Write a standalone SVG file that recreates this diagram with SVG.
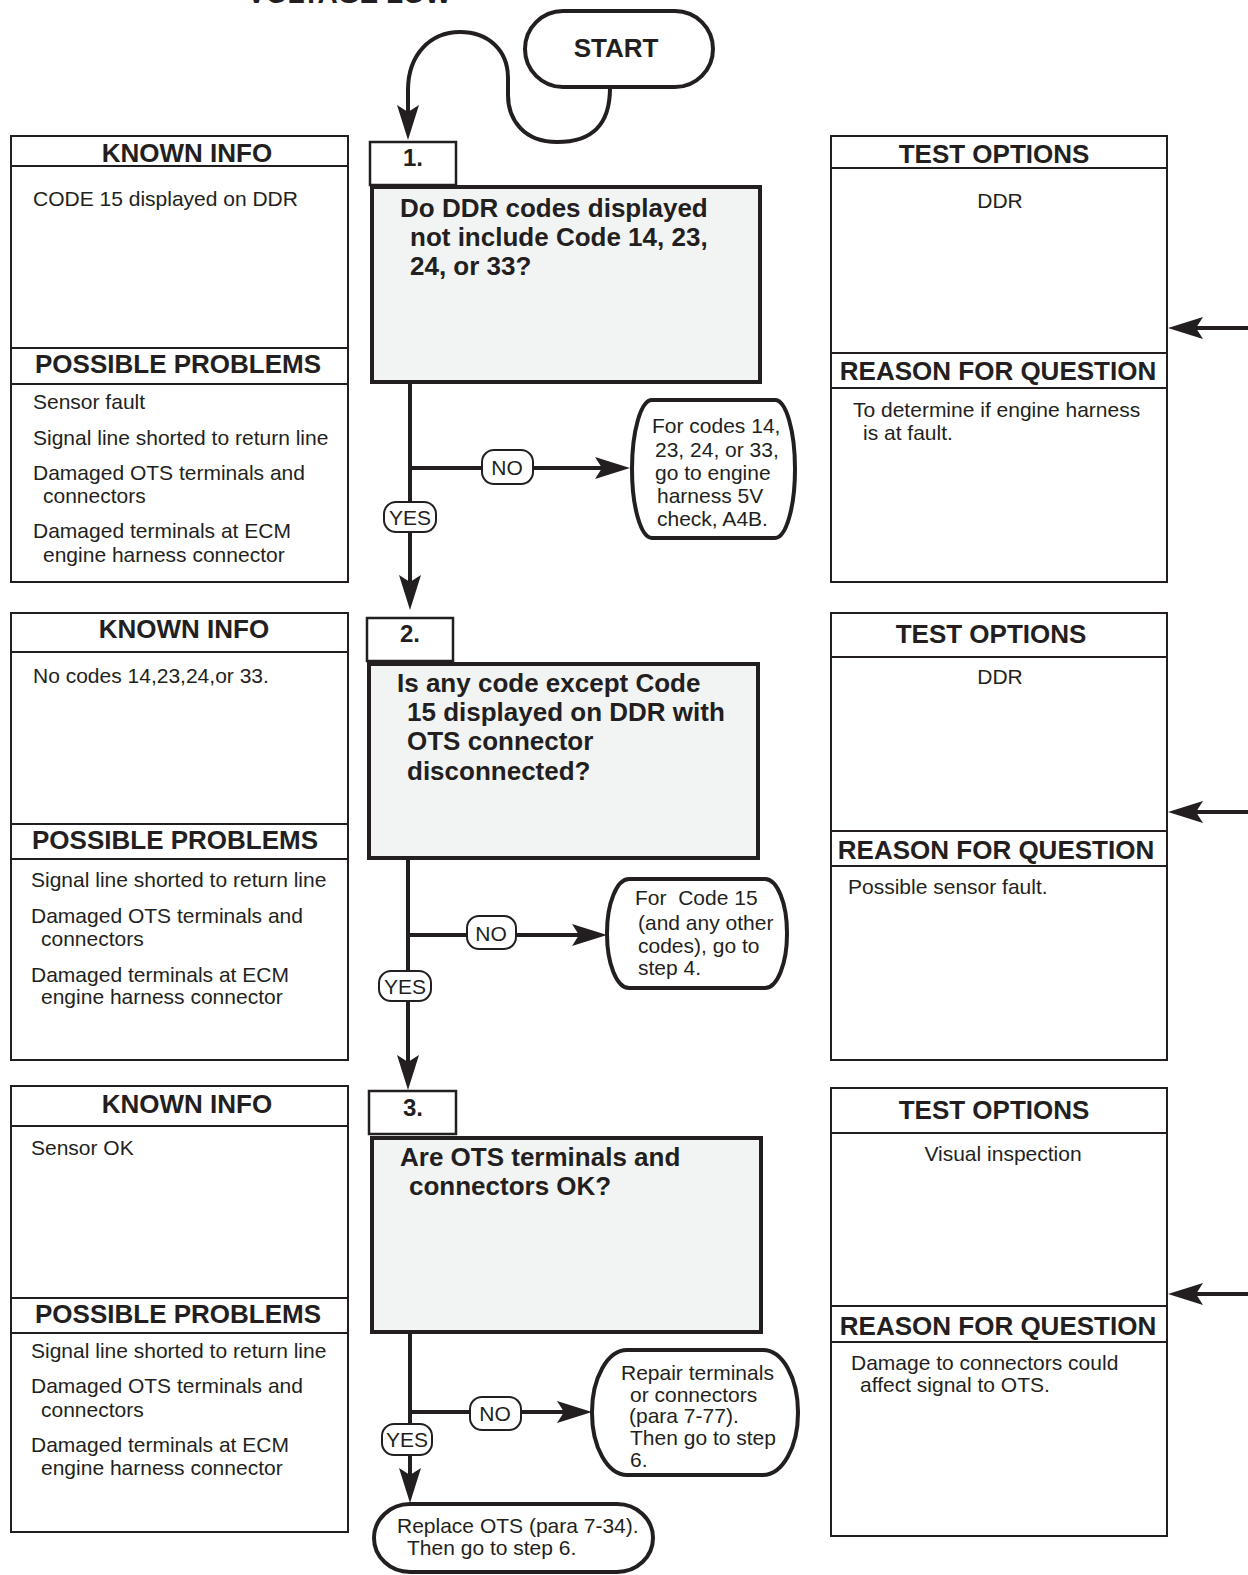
<svg xmlns="http://www.w3.org/2000/svg" xmlns:xlink="http://www.w3.org/1999/xlink" width="1248" height="1575" viewBox="0 0 1248 1575">
<style>
text{font-family:"Liberation Sans",Arial,Helvetica,sans-serif;fill:#231f20}
.h{font-size:26px;font-weight:bold}
.b{font-size:21px}
.q{font-size:26px;font-weight:bold}
.n{font-size:24px;font-weight:bold}
.lbl{font-size:21px}
.c{text-anchor:middle}
.info{fill:#fff;stroke:#231f20;stroke-width:2}
.div{stroke:#231f20;stroke-width:2}
.qbox{fill:#f2f4f4;stroke:#231f20;stroke-width:4}
.num{fill:#fff;stroke:#231f20;stroke-width:2.5}
.oval{fill:#fff;stroke:#231f20;stroke-width:4}
.tag{fill:#fff;stroke:#231f20;stroke-width:2}
.ln{fill:none;stroke:#231f20;stroke-width:4}
.ah{fill:#231f20}
</style>
<defs>
<path id="ah" d="M0,0 L-35,-11 L-28,0 L-35,11 Z"/>
</defs>
<rect width="1248" height="1575" fill="#fff"/>
<text x="247" y="3" style="font-size:28px;font-weight:bold">VOLTAGE LOW</text>

<!-- connectors -->
<g id="connectors">
<path class="ln" d="M610 88 C610 125 592 142 557 142 C524 142 508 120 508 95 L508 78 C508 50 488 32 460 32 C430 32 408 55 408 90 L408 112"/>
<use href="#ah" class="ah" transform="translate(408,140) rotate(90)"/>
<line class="ln" x1="410" y1="383" x2="410" y2="585"/>
<use href="#ah" class="ah" transform="translate(410,610) rotate(90)"/>
<line class="ln" x1="410" y1="468" x2="602" y2="468"/>
<use href="#ah" class="ah" transform="translate(630,468)"/>
<line class="ln" x1="408" y1="860" x2="408" y2="1064"/>
<use href="#ah" class="ah" transform="translate(408,1090) rotate(90)"/>
<line class="ln" x1="408" y1="935" x2="580" y2="935"/>
<use href="#ah" class="ah" transform="translate(607,935)"/>
<line class="ln" x1="410" y1="1334" x2="410" y2="1476"/>
<use href="#ah" class="ah" transform="translate(410,1503) rotate(90)"/>
<line class="ln" x1="410" y1="1412" x2="565" y2="1412"/>
<use href="#ah" class="ah" transform="translate(592,1412)"/>
<line class="ln" x1="1248" y1="328" x2="1195" y2="328"/>
<use href="#ah" class="ah" transform="translate(1168,328) rotate(180)"/>
<line class="ln" x1="1248" y1="812" x2="1195" y2="812"/>
<use href="#ah" class="ah" transform="translate(1168,812) rotate(180)"/>
<line class="ln" x1="1248" y1="1294" x2="1195" y2="1294"/>
<use href="#ah" class="ah" transform="translate(1168,1294) rotate(180)"/>
<rect class="tag" x="482" y="450" width="51" height="34" rx="12"/>
<text class="lbl c" x="507" y="475">NO</text>
<rect class="tag" x="384" y="502" width="52" height="30" rx="12"/>
<text class="lbl c" x="410" y="525">YES</text>
<rect class="tag" x="467" y="916" width="49" height="33" rx="12"/>
<text class="lbl c" x="491" y="941">NO</text>
<rect class="tag" x="379" y="971" width="52" height="30" rx="12"/>
<text class="lbl c" x="405" y="994">YES</text>
<rect class="tag" x="470" y="1397" width="51" height="33" rx="12"/>
<text class="lbl c" x="495" y="1421">NO</text>
<rect class="tag" x="382" y="1424" width="50" height="31" rx="12"/>
<text class="lbl c" x="407" y="1447">YES</text>
</g>

<g id="start">
<rect class="oval" x="525" y="11" width="188" height="76" rx="38"/>
<text class="c" x="616" y="57" style="font-size:26px;font-weight:bold">START</text>
</g>

<!-- Step 1 -->
<g id="known1">
<rect class="info" x="11" y="136" width="337" height="446"/>
<line class="div" x1="11" y1="166" x2="348" y2="166"/>
<line class="div" x1="11" y1="348" x2="348" y2="348"/>
<line class="div" x1="11" y1="384" x2="348" y2="384"/>
<text class="h c" x="187" y="162">KNOWN INFO</text>
<text class="b" x="33" y="206">CODE 15 displayed on DDR</text>
<text class="h" x="35" y="373">POSSIBLE PROBLEMS</text>
<text class="b" x="33" y="409">Sensor fault</text>
<text class="b" x="33" y="445">Signal line shorted to return line</text>
<text class="b" x="33" y="480">Damaged OTS terminals and</text>
<text class="b" x="43" y="503">connectors</text>
<text class="b" x="33" y="538">Damaged terminals at ECM</text>
<text class="b" x="43" y="562">engine harness connector</text>
</g>
<g id="step1">
<rect class="num" x="370" y="142" width="86" height="43"/>
<text class="n c" x="413" y="166">1.</text>
<rect class="qbox" x="372" y="187" width="388" height="195"/>
<text class="q" x="400" y="217">Do DDR codes displayed</text>
<text class="q" x="410" y="246">not include Code 14, 23,</text>
<text class="q" x="410" y="275">24, or 33?</text>
</g>
<g id="no1">
<rect class="oval" x="632" y="400" width="163" height="138" rx="20" ry="69"/>
<text class="b" x="652" y="433">For codes 14,</text>
<text class="b" x="655" y="457">23, 24, or 33,</text>
<text class="b" x="655" y="480">go to engine</text>
<text class="b" x="657" y="503">harness 5V</text>
<text class="b" x="657" y="526">check, A4B.</text>
</g>
<g id="test1">
<rect class="info" x="831" y="136" width="336" height="446"/>
<line class="div" x1="831" y1="168" x2="1167" y2="168"/>
<line class="div" x1="831" y1="353" x2="1167" y2="353"/>
<line class="div" x1="831" y1="388" x2="1167" y2="388"/>
<text class="h c" x="994" y="163">TEST OPTIONS</text>
<text class="b c" x="1000" y="208">DDR</text>
<text class="h c" x="998" y="380">REASON FOR QUESTION</text>
<text class="b" x="853" y="417">To determine if engine harness</text>
<text class="b" x="863" y="440">is at fault.</text>
</g>

<!-- Step 2 -->
<g id="known2">
<rect class="info" x="11" y="613" width="337" height="447"/>
<line class="div" x1="11" y1="652" x2="348" y2="652"/>
<line class="div" x1="11" y1="824" x2="348" y2="824"/>
<line class="div" x1="11" y1="859" x2="348" y2="859"/>
<text class="h c" x="184" y="638">KNOWN INFO</text>
<text class="b" x="33" y="683">No codes 14,23,24,or 33.</text>
<text class="h" x="32" y="849">POSSIBLE PROBLEMS</text>
<text class="b" x="31" y="887">Signal line shorted to return line</text>
<text class="b" x="31" y="923">Damaged OTS terminals and</text>
<text class="b" x="41" y="946">connectors</text>
<text class="b" x="31" y="982">Damaged terminals at ECM</text>
<text class="b" x="41" y="1004">engine harness connector</text>
</g>
<g id="step2">
<rect class="num" x="367" y="618" width="86" height="43"/>
<text class="n c" x="410" y="642">2.</text>
<rect class="qbox" x="369" y="664" width="389" height="194"/>
<text class="q" x="397" y="692">Is any code except Code</text>
<text class="q" x="407" y="721">15 displayed on DDR with</text>
<text class="q" x="407" y="750">OTS connector</text>
<text class="q" x="407" y="780">disconnected?</text>
</g>
<g id="no2">
<rect class="oval" x="607" y="879" width="180" height="109" rx="22" ry="54"/>
<text class="b" x="635" y="905" style="white-space:pre">For  Code 15</text>
<text class="b" x="638" y="930">(and any other</text>
<text class="b" x="638" y="953">codes), go to</text>
<text class="b" x="638" y="975">step 4.</text>
</g>
<g id="test2">
<rect class="info" x="831" y="613" width="336" height="447"/>
<line class="div" x1="831" y1="657" x2="1167" y2="657"/>
<line class="div" x1="831" y1="831" x2="1167" y2="831"/>
<line class="div" x1="831" y1="866" x2="1167" y2="866"/>
<text class="h c" x="991" y="643">TEST OPTIONS</text>
<text class="b c" x="1000" y="684">DDR</text>
<text class="h c" x="996" y="859">REASON FOR QUESTION</text>
<text class="b" x="848" y="894">Possible sensor fault.</text>
</g>

<!-- Step 3 -->
<g id="known3">
<rect class="info" x="11" y="1086" width="337" height="446"/>
<line class="div" x1="11" y1="1126" x2="348" y2="1126"/>
<line class="div" x1="11" y1="1298" x2="348" y2="1298"/>
<line class="div" x1="11" y1="1333" x2="348" y2="1333"/>
<text class="h c" x="187" y="1113">KNOWN INFO</text>
<text class="b" x="31" y="1155">Sensor OK</text>
<text class="h" x="35" y="1323">POSSIBLE PROBLEMS</text>
<text class="b" x="31" y="1358">Signal line shorted to return line</text>
<text class="b" x="31" y="1393">Damaged OTS terminals and</text>
<text class="b" x="41" y="1417">connectors</text>
<text class="b" x="31" y="1452">Damaged terminals at ECM</text>
<text class="b" x="41" y="1475">engine harness connector</text>
</g>
<g id="step3">
<rect class="num" x="369" y="1091" width="87" height="43"/>
<text class="n c" x="413" y="1116">3.</text>
<rect class="qbox" x="372" y="1138" width="389" height="194"/>
<text class="q" x="400" y="1166">Are OTS terminals and</text>
<text class="q" x="409" y="1195">connectors OK?</text>
</g>
<g id="no3">
<rect class="oval" x="592" y="1350" width="206" height="125" rx="35" ry="62"/>
<text class="b" x="621" y="1380">Repair terminals</text>
<text class="b" x="630" y="1402">or connectors</text>
<text class="b" x="629" y="1423">(para 7-77).</text>
<text class="b" x="630" y="1445">Then go to step</text>
<text class="b" x="630" y="1467">6.</text>
</g>
<g id="yes3">
<rect class="oval" x="374" y="1504" width="279" height="68" rx="36" ry="34"/>
<text class="b" x="397" y="1533">Replace OTS (para 7-34).</text>
<text class="b" x="407" y="1555">Then go to step 6.</text>
</g>
<g id="test3">
<rect class="info" x="831" y="1088" width="336" height="448"/>
<line class="div" x1="831" y1="1133" x2="1167" y2="1133"/>
<line class="div" x1="831" y1="1306" x2="1167" y2="1306"/>
<line class="div" x1="831" y1="1342" x2="1167" y2="1342"/>
<text class="h c" x="994" y="1119">TEST OPTIONS</text>
<text class="b c" x="1003" y="1161">Visual inspection</text>
<text class="h c" x="998" y="1335">REASON FOR QUESTION</text>
<text class="b" x="851" y="1370">Damage to connectors could</text>
<text class="b" x="860" y="1392">affect signal to OTS.</text>
</g>
</svg>
